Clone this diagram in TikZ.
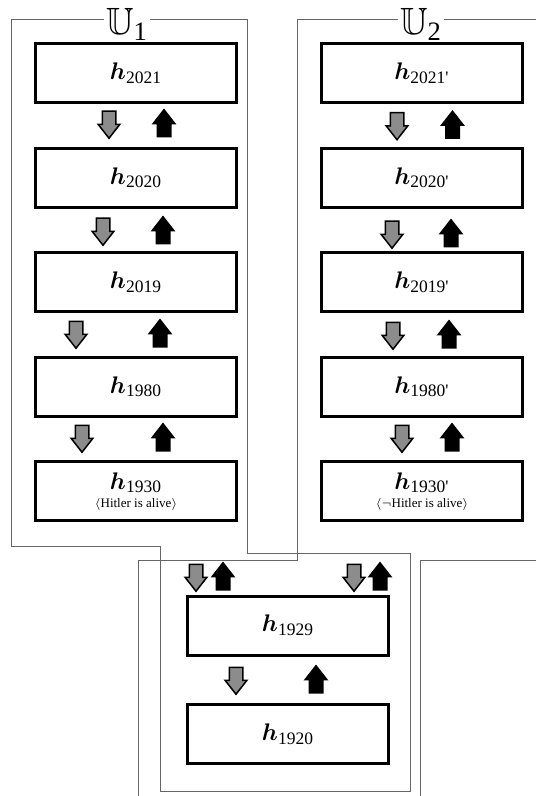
\documentclass[tikz,border=0pt]{standalone}
\usepackage{amsmath}
\usepackage{amssymb}
\usepackage{fontspec}
\setmainfont{Liberation Serif}
\usetikzlibrary{positioning, shapes.arrows}

\begin{document}
\begin{tikzpicture} [%
    x = 0.5pt,
    y = -0.5pt,
    node distance = 52.3pt,
    on grid,
    hbox/.style = {%
      draw,
      line width = 1.5pt,
      fill = white,
      minimum width = 100.5pt,
      minimum height = 29.5pt,
      inner sep = 0pt,
      align = center,
      font = \fontsize{12.5}{14}\selectfont },
    blockarrow/.style = {%
      single arrow,
      draw,
      line width = 0.75pt,
      inner sep = 3pt,
      minimum height = 13.5pt,
      single arrow head extend = 2pt,
      single arrow tip angle = 76,
      single arrow head indent = 0pt,
      anchor = tail },
    fallarrow/.style = {blockarrow, fill = black!45, shape border rotate = 270, yshift = 6.75pt},
    risearrow/.style = {blockarrow, fill = black, shape border rotate = 90, yshift = -6.75pt},
    world/.style = {draw = black!60, line width = 0.5pt},
    worldname/.style = {%
      fill = white,
      inner sep = 1pt,
      anchor = base,
      font = \fontsize{19}{20}\selectfont }
  ]

  \useasboundingbox (0,0) rectangle (536,796);

  % the two worlds
  \draw[world] (160,791) -- (160,546) -- (11,546) -- (11,20) -- (247,20)
    -- (247,553) -- (410,553) -- (410,791) -- cycle;
  \draw[world] (138,796) -- (138,560) -- (297,560) -- (297,20) -- (536,20);
  \draw[world] (536,560) -- (420,560) -- (420,796);

  \node[worldname] (U1) at (127,35) {$\mathbb{U}_{\text{1}}$};
  \node[worldname] (U2) at (421,35) {$\mathbb{U}_{\text{2}}$};

  % first history
  \node[hbox] (h2021) at (136,73) {$\boldsymbol{h}_{\text{2021}}$};
  \node[hbox] (h2020) [below=of h2021] {$\boldsymbol{h}_{\text{2020}}$};
  \node[hbox] (h2019) [below=of h2020] {$\boldsymbol{h}_{\text{2019}}$};
  \node[hbox] (h1980) [below=of h2019] {$\boldsymbol{h}_{\text{1980}}$};
  \node[hbox] (h1930) [below=of h1980]
    {$\boldsymbol{h}_{\text{1930}}$\\[-5pt]{\fontsize{6.5}{7}\selectfont $\langle$Hitler is alive$\rangle$}};

  % second history
  \node[hbox] (h2021p) [right=143pt of h2021] {$\boldsymbol{h}_{\text{2021\textquotesingle}}$};
  \node[hbox] (h2020p) [below=of h2021p] {$\boldsymbol{h}_{\text{2020\textquotesingle}}$};
  \node[hbox] (h2019p) [below=of h2020p] {$\boldsymbol{h}_{\text{2019\textquotesingle}}$};
  \node[hbox] (h1980p) [below=of h2019p] {$\boldsymbol{h}_{\text{1980\textquotesingle}}$};
  \node[hbox] (h1930p) [below=of h1980p]
    {$\boldsymbol{h}_{\text{1930\textquotesingle}}$\\[-5pt]{\fontsize{6.5}{7}\selectfont $\langle\neg$Hitler is alive$\rangle$}};

  % shared past
  \node[hbox] (h1929) at (288,625.5) {$\boldsymbol{h}_{\text{1929}}$};
  \node[hbox] (h1920) [below=54.25pt of h1929] {$\boldsymbol{h}_{\text{1920}}$};

  \node[fallarrow] (fa1) at (109,124) {};
  \node[risearrow] (ra1) at (164,124) {};
  \node[fallarrow] (fa2) at (103,231) {};
  \node[risearrow] (ra2) at (163,231) {};
  \node[fallarrow] (fa3) at (76,334) {};
  \node[risearrow] (ra3) at (160,334) {};
  \node[fallarrow] (fa4) at (82,438) {};
  \node[risearrow] (ra4) at (163,438) {};

  \node[fallarrow] (fb1) at (397,125.5) {};
  \node[risearrow] (rb1) at (452.5,125.5) {};
  \node[fallarrow] (fb2) at (392,234) {};
  \node[risearrow] (rb2) at (451,234) {};
  \node[fallarrow] (fb3) at (393,335) {};
  \node[risearrow] (rb3) at (449,335) {};
  \node[fallarrow] (fb4) at (402,438) {};
  \node[risearrow] (rb4) at (452,438) {};

  \node[fallarrow] (fc1) at (196,577) {};
  \node[risearrow] (rc1) at (223,577) {};
  \node[fallarrow] (fc2) at (354,577) {};
  \node[risearrow] (rc2) at (380,577) {};
  \node[fallarrow] (fc3) at (236,680) {};
  \node[risearrow] (rc3) at (316,680) {};

\end{tikzpicture}
\end{document}
